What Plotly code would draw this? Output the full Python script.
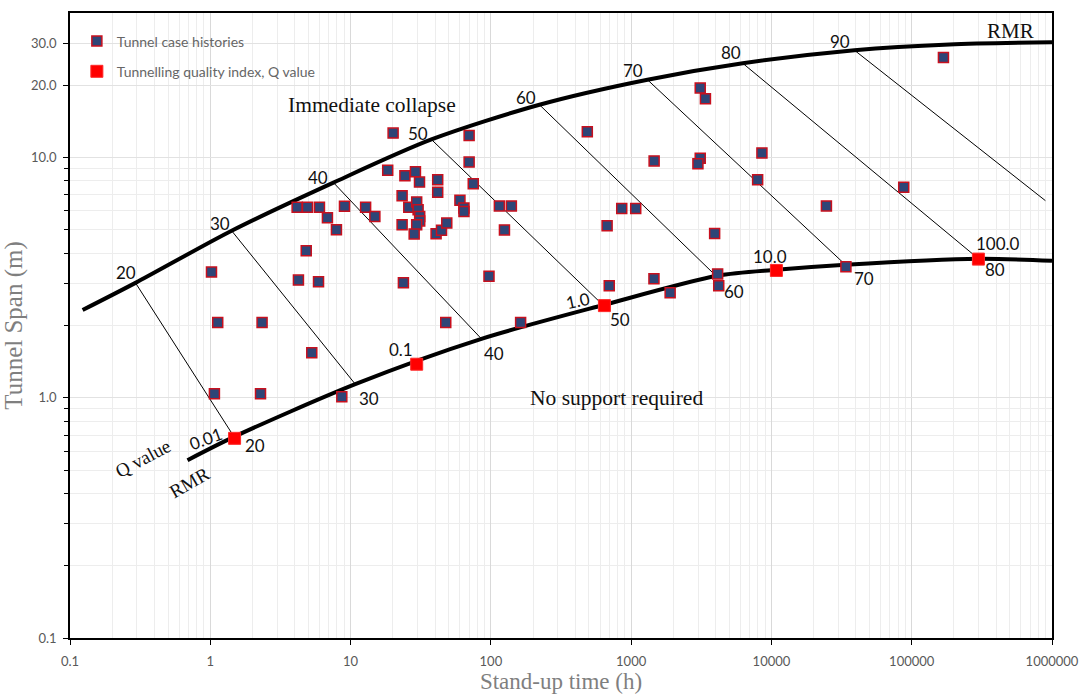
import numpy as np
import plotly.graph_objects as go

# ---------------- data ----------------
# Tunnel case histories: stand-up time (h) and tunnel span (m)
case_time = [4.16, 4.93, 6.0, 6.84, 7.93, 9.05, 12.8, 14.9, 4.83, 1.02, 4.25, 5.91, 1.13, 2.34, 1.07, 2.28, 5.29, 8.66,
             20.1, 70.0, 70.0, 18.4, 24.4, 29.0, 31.0, 41.8, 74.9, 41.8, 23.3, 26.0, 29.6, 30.3, 31.1, 31.1, 29.6, 23.3,
             28.4, 40.7, 44.5, 48.5, 60.2, 64.3, 64.3, 115, 140, 125, 97, 23.8, 47.7, 163,
             487, 3108, 3385, 1458, 3108, 2993, 8557, 7974, 857, 1078, 674, 3937, 698, 1454, 1897, 4136, 4211,
             24660, 87700, 168300, 33960]
case_span = [6.21, 6.21, 6.21, 5.62, 5.01, 6.28, 6.22, 5.68, 4.09, 3.34, 3.09, 3.04, 2.06, 2.06, 1.04, 1.04, 1.54, 1.01,
             12.65, 12.35, 9.58, 8.85, 8.41, 8.74, 7.91, 8.09, 7.79, 7.17, 6.94, 6.21, 6.54, 6.07, 5.69, 5.45, 5.25, 5.25,
             4.81, 4.82, 4.99, 5.34, 6.64, 6.17, 5.97, 6.29, 6.29, 5.00, 3.21, 3.01, 2.06, 2.06,
             12.8, 19.5, 17.6, 9.69, 9.95, 9.42, 10.46, 8.09, 6.14, 6.14, 5.20, 4.83, 2.93, 3.13, 2.74, 3.28, 2.93,
             6.29, 7.52, 26.1, 3.51]

# Tunnelling quality index Q values on the lower boundary
q_labels = ["0.01", "0.1", "1.0", "10.0", "100.0"]
q_time = [1.49, 29.6, 645, 10850, 298900]
q_span = [0.678, 1.38, 2.42, 3.39, 3.78]

# Upper boundary (immediate collapse)
upper_time = [0.123, 0.293, 1.42, 7.55, 37.7, 222, 1307, 6245, 39050, 185700, 1000000]
upper_span = [2.32, 3.01, 4.96, 7.87, 11.9, 16.6, 21.1, 24.7, 28.0, 29.6, 30.2]

# Lower boundary (no support required)
lower_time = [0.688, 1.46, 10.8, 85.7, 645, 4121, 10850, 33690, 298900, 1000000]
lower_span = [0.550, 0.686, 1.14, 1.76, 2.44, 3.22, 3.41, 3.58, 3.79, 3.72]

# RMR iso-lines (start on upper boundary, end on lower boundary)
rmr_values = [20, 30, 40, 50, 60, 70, 80, 90]
rmr_top_time = [0.293, 1.42, 7.55, 37.7, 222, 1307, 6245, 39050]
rmr_top_span = [3.01, 4.96, 7.87, 11.9, 16.6, 21.1, 24.7, 28.0]
rmr_bot_time = [1.45, 10.8, 85.7, 600, 3850, 33690, 290000, 897000]
rmr_bot_span = [0.70, 1.14, 1.76, 2.50, 3.30, 3.58, 3.85, 6.62]

# label positions (time, span)
rmr_top_lab_time = [0.2516, 1.176, 5.84, 30.1, 178.5, 1027, 5162, 31020]
rmr_top_lab_span = [3.325, 5.34, 8.23, 12.59, 17.85, 23.06, 27.34, 30.55]
rmr_bot_labels = ["20", "30", "40", "50", "60", "70", "80"]
rmr_bot_lab_time = [2.07, 13.6, 104.9, 839, 5385, 45490, 395100]
rmr_bot_lab_span = [0.636, 0.989, 1.533, 2.125, 2.77, 3.13, 3.41]
q_lab_time = [0.935, 22.9, 416, 9790, 410200]
q_lab_span = [0.678, 1.594, 2.53, 3.88, 4.38]
q_lab_angle = [-20, 0, -12, 0, 0]

x_tick_vals = [0.1, 1, 10, 100, 1000, 10000, 100000, 1000000]
x_tick_text = ["0.1", "1", "10", "100", "1000", "10000", "100000", "1000000"]
y_tick_vals = [0.1, 1, 10, 20, 30]
y_tick_text = ["0.1", "1.0", "10.0", "20.0", "30.0"]

# ---------------- figure ----------------
SANS = "Lato, Carlito, 'Liberation Sans', sans-serif"
SERIF = "'Liberation Serif', 'DejaVu Serif', serif"

fig = go.Figure()

# thin RMR lines
for i in range(len(rmr_values)):
    fig.add_trace(go.Scatter(
        x=[rmr_top_time[i], rmr_bot_time[i]], y=[rmr_top_span[i], rmr_bot_span[i]],
        mode="lines", line=dict(color="black", width=1), showlegend=False, hoverinfo="skip"))

# boundaries
fig.add_trace(go.Scatter(x=upper_time, y=upper_span, mode="lines",
                         line=dict(color="black", width=4, shape="spline", smoothing=0.8),
                         showlegend=False, hoverinfo="skip"))
fig.add_trace(go.Scatter(x=lower_time, y=lower_span, mode="lines",
                         line=dict(color="black", width=4, shape="spline", smoothing=0.8),
                         showlegend=False, hoverinfo="skip"))

# case histories
fig.add_trace(go.Scatter(x=case_time, y=case_span, mode="markers",
                         name="Tunnel case histories", legendgroup="a",
                         marker=dict(symbol="square", size=10, color="#2E4577",
                                     line=dict(color="#C8101E", width=1.5))))
# Q values
fig.add_trace(go.Scatter(x=q_time, y=q_span, mode="markers",
                         name="Tunnelling quality index, Q value", legendgroup="b",
                         marker=dict(symbol="square", size=12, color="#FF0000",
                                     line=dict(color="#FF2a2a", width=1))))

ann = []
def add_text(x, y, text, size=17, font=SANS, angle=0, color="#111111"):
    ann.append(dict(x=np.log10(x), y=np.log10(y), xref="x", yref="y", text=text,
                    showarrow=False, textangle=angle,
                    font=dict(family=font, size=size, color=color)))

for v, tx, ty in zip(rmr_values, rmr_top_lab_time, rmr_top_lab_span):
    add_text(tx, ty, str(v))
for t, tx, ty in zip(rmr_bot_labels, rmr_bot_lab_time, rmr_bot_lab_span):
    add_text(tx, ty, t)
for t, tx, ty, a in zip(q_labels, q_lab_time, q_lab_span, q_lab_angle):
    add_text(tx, ty, t, angle=a)

add_text(502700, 33.6, "RMR", size=21, font=SERIF)
add_text(14.1, 16.5, "Immediate collapse", size=21.5, font=SERIF)
add_text(782, 0.995, "No support required", size=21.5, font=SERIF)
add_text(0.330, 0.56, "Q value", size=19, font=SERIF, angle=-28)
add_text(0.711, 0.446, "RMR", size=19, font=SERIF, angle=-30)

minor_x = [m * 10.0 ** d for d in range(-1, 6) for m in range(2, 10)]
minor_y = [m * 10.0 ** d for d in range(-1, 1) for m in range(2, 10)]

fig.update_layout(
    width=1085, height=698,
    margin=dict(l=70, r=33, t=13, b=60, autoexpand=False),
    paper_bgcolor="white", plot_bgcolor="white",
    annotations=ann,
    legend=dict(x=0.007, y=0.98, xanchor="left", yanchor="top",
                font=dict(family=SANS, size=14, color="#666666"),
                bgcolor="rgba(0,0,0,0)", tracegroupgap=9, itemwidth=30,
                traceorder="grouped"),
    xaxis=dict(type="log", range=[-1, 6], tickvals=x_tick_vals, ticktext=x_tick_text,
               showgrid=True, gridcolor="#D9D9D9", gridwidth=1,
               ticks="outside", ticklen=5, tickcolor="black", ticklabelstandoff=6,
               showline=True, linecolor="black", linewidth=1.5, mirror=True,
               tickfont=dict(family=SANS, size=13, color="#595959"),
               minor=dict(tickvals=minor_x, showgrid=True, gridcolor="#EDEDED", ticks=""),
               title=dict(text="Stand-up time (h)", font=dict(family=SERIF, size=23, color="#7F7F7F"),
                          standoff=4),
               automargin=False, zeroline=False),
    yaxis=dict(type="log", range=[-1, np.log10(40)], tickvals=y_tick_vals, ticktext=y_tick_text,
               showgrid=True, gridcolor="#E2E2E2", gridwidth=1,
               ticks="outside", ticklen=5, tickcolor="black", ticklabelstandoff=4,
               showline=True, linecolor="black", linewidth=1.5, mirror=True,
               tickfont=dict(family=SANS, size=13, color="#595959"),
               minor=dict(tickvals=minor_y, showgrid=True, gridcolor="#EDEDED",
                          ticks="outside", ticklen=4, tickcolor="black"),
               title=dict(text="Tunnel Span (m)", font=dict(family=SERIF, size=25, color="#7F7F7F"),
                          standoff=4),
               automargin=False, zeroline=False),
)

fig.write_html("out.html", config={"displayModeBar": False},
               post_script="document.body.style.margin='0';")
